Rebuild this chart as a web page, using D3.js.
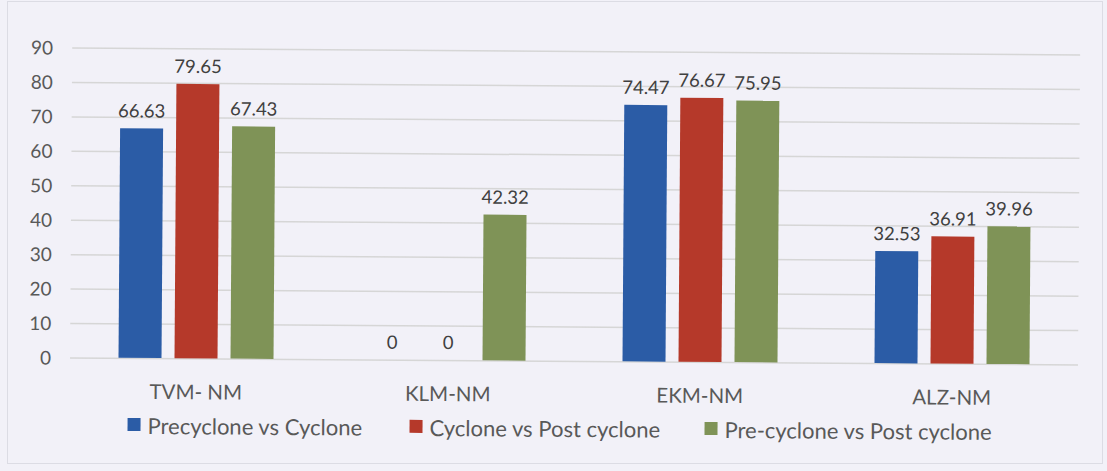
<!DOCTYPE html>
<html><head><meta charset="utf-8">
<script src="https://cdn.jsdelivr.net/npm/d3@7"></script>
<style>
html,body{margin:0;padding:0;background:#f2f1f8;}
svg{display:block;}
text{font-family:Lato,"Open Sans",sans-serif;}
</style></head>
<body>
<svg id="chart" width="1107" height="471"></svg>
<script>
const categories = ["TVM- NM","KLM-NM","EKM-NM","ALZ-NM"];
const seriesNames = ["Precyclone vs Cyclone","Cyclone vs Post cyclone","Pre-cyclone vs Post cyclone"];
const precycloneVsCyclone = [66.63, 0, 74.47, 32.53];
const cycloneVsPostCyclone = [79.65, 0, 76.67, 36.91];
const preVsPostCyclone = [67.43, 42.32, 75.95, 39.96];
const yTicks = [0,10,20,30,40,50,60,70,80,90];
const seriesColors = ["#2b5ca6","#b5392a","#7f9357"];

const seriesValues = [precycloneVsCyclone, cycloneVsPostCyclone, preVsPostCyclone];
const svg = d3.select("#chart");
svg.append("rect").attr("x",0).attr("y",0).attr("width",1107).attr("height",471).attr("fill","#f2f1f8");
svg.append("rect").attr("x",7.5).attr("y",1.5).attr("width",1095).attr("height",462)
  .attr("fill","none").attr("stroke","#dcdce4").attr("stroke-width",1);

// the scanned chart is slightly tilted
const root = svg.append("g").attr("transform","rotate(0.4,574,361)");

const plotLeft = 70, plotRight = 1078, plotTop = 51, plotBottom = 361;
const x0 = d3.scaleBand().domain(categories).range([plotLeft,plotRight]).padding(0);
const x1 = d3.scaleBand().domain(seriesNames).range([0,x0.bandwidth()]).paddingInner(0.232).paddingOuter(0.866);
const y = d3.scaleLinear().domain([0,90]).range([plotBottom,plotTop]);

// gridlines
root.append("g").selectAll("line").data(yTicks).join("line")
  .attr("x1",plotLeft).attr("x2",plotRight)
  .attr("y1",d=>y(d)+0.5).attr("y2",d=>y(d)+0.5)
  .attr("stroke","#d6d6d6").attr("stroke-width",1.5);

// y axis labels
const yAxis = d3.axisLeft(y).tickValues(yTicks).tickSize(0).tickPadding(0);
const ga = root.append("g").attr("transform",`translate(51,0)`).call(yAxis);
ga.select(".domain").remove();
ga.selectAll("text").attr("fill","#595959").attr("dy","0.35em").style("font-size","19px").style("font-family","Lato,'Open Sans',sans-serif");

// bars
const groups = root.append("g").selectAll("g").data(categories).join("g")
  .attr("transform",d=>`translate(${x0(d)},0)`);
groups.each(function(cat,ci){
  const g = d3.select(this);
  seriesNames.forEach((s,si)=>{
    const v = seriesValues[si][ci];
    if (v>0) {
      g.append("rect").attr("x",x1(s)).attr("width",x1.bandwidth())
        .attr("y",y(v)).attr("height",y(0)-y(v)).attr("fill",seriesColors[si]);
    }
    g.append("text").attr("x",x1(s)+x1.bandwidth()/2).attr("y",y(v)-11)
      .attr("text-anchor","middle").attr("fill","#404040").style("font-size","18.5px")
      .text(v===0?"0":v.toFixed(2));
  });
});

// category labels
root.append("g").selectAll("text").data(categories).join("text")
  .attr("x",d=>x0(d)+x0.bandwidth()/2).attr("y",402)
  .attr("text-anchor","middle").attr("fill","#595959").style("font-size","20.5px")
  .text(d=>d);

// legend
const legendX = [128, 410, 705];
const lg = root.append("g").selectAll("g").data(seriesNames).join("g")
  .attr("transform",(d,i)=>`translate(${legendX[i]},0)`);
lg.append("rect").attr("x",0).attr("y",421).attr("width",13).attr("height",13)
  .attr("fill",(d,i)=>seriesColors[i]);
lg.append("text").attr("x",20).attr("y",437).attr("fill","#595959").style("font-size","22px").text(d=>d);
</script>
</body></html>
